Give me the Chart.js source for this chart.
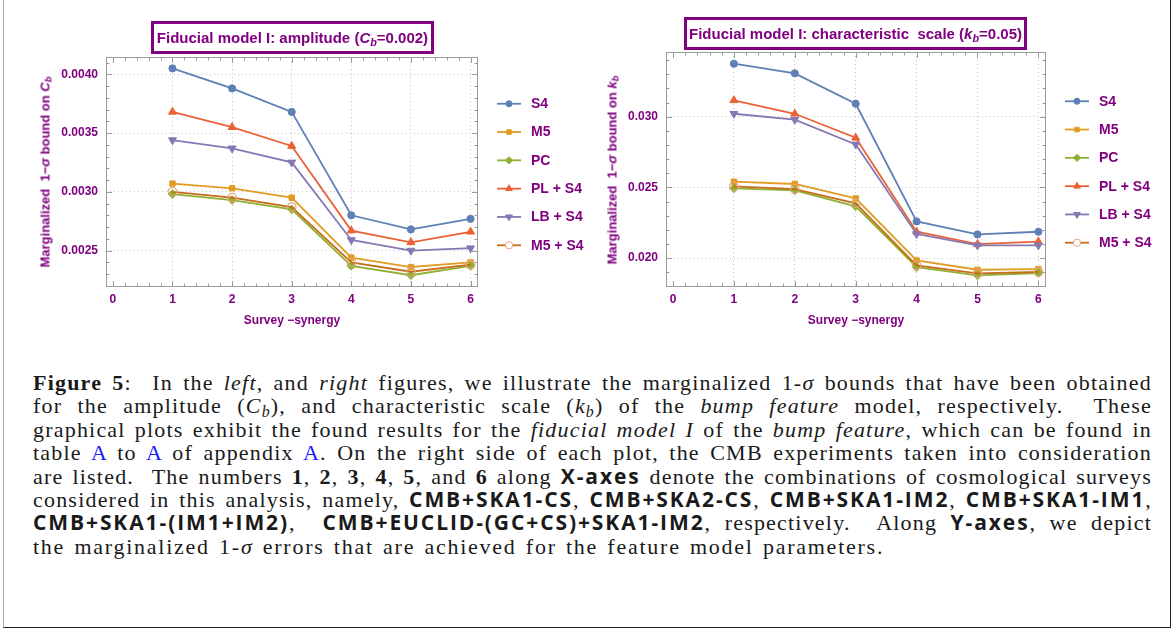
<!DOCTYPE html>
<html>
<head>
<meta charset="utf-8">
<title>Bump feature model: marginalized bounds</title>
<script src="https://cdn.jsdelivr.net/npm/chart.js@4"></script>
<style>
  html, body { margin: 0; padding: 0; background: #fff; }
  body { width: 1176px; height: 632px; position: relative; overflow: hidden;
         font-family: "Liberation Sans", Arial, sans-serif; }
  canvas { position: absolute; top: 0; }
  .frame { position: absolute; left: 3px; top: 0; width: 1166px; height: 627px;
           border-left: 1px solid #b0b0b0; border-right: 1px solid #222; border-bottom: 1px solid #222; }
  .plot-title { position: absolute; box-sizing: border-box; border: 3px solid #800080; color: #800080;
                font-weight: bold; font-size: 15px; line-height: 27px; text-align: center; white-space: nowrap; }
  .ytitle { position: absolute; transform: translate(-50%, -50%) rotate(-90deg); color: #800080;
            font-weight: bold; font-size: 13px; white-space: nowrap; }
  sub { font-size: 0.72em; line-height: 0; vertical-align: -0.25em; }
  .caption { position: absolute; left: 33px; top: 371px; width: 1119px; color: #1a1a1a;
             font-family: "Liberation Serif", "DejaVu Serif", serif; font-size: 22px; line-height: 23.4px;
             letter-spacing: 1.2px; word-spacing: 2px; }
  .caption div { text-align: justify; text-align-last: justify; white-space: nowrap; }
  .caption div.last { text-align-last: left; letter-spacing: 1.75px; }
  .sf { font-family: "Open Sans", "Noto Sans", sans-serif; font-weight: 700; font-size: 21px; letter-spacing: 1.9px; }
  .ref { color: #1a1aff; }
</style>
</head>
<body>
<div class="frame"></div>

<canvas id="ampChart" width="600" height="340" style="left:0px"></canvas>
<canvas id="kbChart" width="616" height="340" style="left:560px"></canvas>

<div class="plot-title" style="left:151px; top:21px; width:283px; height:33px;">Fiducial model I: amplitude (<i>C</i><sub><i>b</i></sub>=0.002)</div>
<div class="plot-title" style="left:684px; top:17px; width:343px; height:33px;">Fiducial model I: characteristic&nbsp; scale (<i>k</i><sub><i>b</i></sub>=0.05)</div>

<div class="ytitle" style="left:45px; top:172px;">Marginalized&nbsp; 1&minus;<i>σ</i> bound on <i>C</i><sub><i>b</i></sub></div>
<div class="ytitle" style="left:612px; top:170px;">Marginalized&nbsp; 1&minus;<i>σ</i> bound on <i>k</i><sub><i>b</i></sub></div>

<div class="caption">
  <div><b>Figure 5</b>:&nbsp; In the <i>left</i>, and <i>right</i> figures, we illustrate the marginalized 1-<i>σ</i> bounds that have been obtained</div>
  <div>for the amplitude (<i>C</i><sub><i>b</i></sub>), and characteristic scale (<i>k</i><sub><i>b</i></sub>) of the <i>bump feature</i> model, respectively.&nbsp; These</div>
  <div>graphical plots exhibit the found results for the <i>fiducial model I</i> of the <i>bump feature</i>, which can be found in</div>
  <div>table <span class="ref">A</span> to <span class="ref">A</span> of appendix <span class="ref">A</span>. On the right side of each plot, the CMB experiments taken into consideration</div>
  <div>are listed.&nbsp; The numbers <b>1</b>, <b>2</b>, <b>3</b>, <b>4</b>, <b>5</b>, and <b>6</b> along <span class="sf">X-axes</span> denote the combinations of cosmological surveys</div>
  <div>considered in this analysis, namely, <span class="sf">CMB+SKA1-CS</span>, <span class="sf">CMB+SKA2-CS</span>, <span class="sf">CMB+SKA1-IM2</span>, <span class="sf">CMB+SKA1-IM1</span>,</div>
  <div><span class="sf">CMB+SKA1-(IM1+IM2)</span>,&nbsp; <span class="sf">CMB+EUCLID-(GC+CS)+SKA1-IM2</span>, respectively.&nbsp; Along <span class="sf">Y-axes</span>, we depict</div>
  <div class="last">the marginalized 1-<i>σ</i> errors that are achieved for the feature model parameters.</div>
</div>

<script>
// survey combinations along x, CMB experiments in the legend
const surveys = [1, 2, 3, 4, 5, 6];
const experiments = ['S4', 'M5', 'PC', 'PL + S4', 'LB + S4', 'M5 + S4'];

// 1-sigma bounds on the amplitude C_b
const ampS4   = [0.00405, 0.00388, 0.00368, 0.00280, 0.00268, 0.00277];
const ampM5   = [0.00307, 0.00303, 0.00295, 0.00244, 0.00236, 0.00240];
const ampPC   = [0.00298, 0.00293, 0.00285, 0.00237, 0.00229, 0.00237];
const ampPLS4 = [0.00368, 0.00355, 0.00339, 0.00267, 0.00257, 0.00266];
const ampLBS4 = [0.00344, 0.00337, 0.00325, 0.00259, 0.00250, 0.00252];
const ampM5S4 = [0.00300, 0.00295, 0.00287, 0.00240, 0.00232, 0.00238];

// 1-sigma bounds on the characteristic scale k_b
const kbS4   = [0.03375, 0.03307, 0.03092, 0.02259, 0.02167, 0.02186];
const kbM5   = [0.02540, 0.02524, 0.02422, 0.01983, 0.01917, 0.01922];
const kbPC   = [0.02493, 0.02479, 0.02366, 0.01936, 0.01877, 0.01894];
const kbPLS4 = [0.03116, 0.03021, 0.02851, 0.02186, 0.02099, 0.02116];
const kbLBS4 = [0.03021, 0.02979, 0.02804, 0.02170, 0.02090, 0.02090];
const kbM5S4 = [0.02507, 0.02488, 0.02387, 0.01948, 0.01892, 0.01901];

// tick labels
const xTicks = [0, 1, 2, 3, 4, 5, 6];
const ampTicks = [0.0025, 0.0030, 0.0035, 0.0040];
const kbTicks = [0.020, 0.025, 0.030];

const purple = '#800080';
const frameGray = '#9a9a9a';

// line colour and marker for each experiment
const styles = [
  { color: '#5E81B5', point: 'circle', radius: 3.6 },
  { color: '#E19C24', point: 'rect', radius: 3.8 },
  { color: '#8FB032', point: 'rectRot', radius: 4.3 },
  { color: '#EB6235', point: 'triangle', radius: 4.6 },
  { color: '#8778B3', point: 'triangle', radius: 4.6, rotation: 180 },
  { color: '#C56E1A', point: 'circle', radius: 4.3, hollow: '#E6A483' },
];

// frame with inward major/minor ticks on all four sides
const frameTicks = {
  id: 'frameTicks',
  beforeDatasetsDraw(chart, args, opts) {
    const { ctx, chartArea: a, scales: { x, y } } = chart;
    ctx.save();
    ctx.strokeStyle = frameGray;
    ctx.lineWidth = 1;
    ctx.strokeRect(Math.round(a.left) + 0.5, Math.round(a.top) + 0.5,
                   Math.round(a.right - a.left) - 1, Math.round(a.bottom - a.top) - 1);
    ctx.beginPath();
    const isMajor = (v, majors, step) => majors.some(t => Math.abs(v - t) < step / 10);
    for (let k = Math.ceil(x.min / opts.xMinor); k * opts.xMinor <= x.max; k++) {
      const v = k * opts.xMinor;
      const len = isMajor(v, xTicks, opts.xMinor) ? 6 : 3.5;
      const px = Math.round(x.getPixelForValue(v)) + 0.5;
      ctx.moveTo(px, a.bottom); ctx.lineTo(px, a.bottom - len);
      ctx.moveTo(px, a.top); ctx.lineTo(px, a.top + len);
    }
    for (let k = Math.ceil(y.min / opts.yMinor); k * opts.yMinor <= y.max; k++) {
      const v = k * opts.yMinor;
      const len = isMajor(v, opts.yMajor, opts.yMinor) ? 6 : 3.5;
      const py = Math.round(y.getPixelForValue(v)) + 0.5;
      ctx.moveTo(a.left, py); ctx.lineTo(a.left + len, py);
      ctx.moveTo(a.right, py); ctx.lineTo(a.right - len, py);
    }
    ctx.stroke();
    ctx.restore();
  }
};

// legend to the right of the plot: short line with the marker, then the name
const sideLegend = {
  id: 'sideLegend',
  afterDraw(chart, args, opts) {
    const { ctx, chartArea: a } = chart;
    const sets = chart.data.datasets;
    const x0 = a.right + opts.gap;
    const yc = (a.top + a.bottom) / 2 + opts.shift;
    ctx.save();
    sets.forEach((ds, i) => {
      const st = styles[i];
      const yy = yc + (i - (sets.length - 1) / 2) * opts.rowGap;
      ctx.strokeStyle = st.color;
      ctx.lineWidth = 1.8;
      ctx.beginPath();
      ctx.moveTo(x0, yy); ctx.lineTo(x0 + 24, yy);
      ctx.stroke();
      ctx.fillStyle = st.hollow ? '#ffffff' : st.color;
      ctx.strokeStyle = st.hollow || st.color;
      ctx.lineWidth = 1;
      const pt = { pointStyle: st.point, rotation: st.rotation || 0, radius: st.radius * 0.85, borderWidth: 1 };
      if (Chart.helpers && Chart.helpers.drawPoint) {
        Chart.helpers.drawPoint(ctx, pt, x0 + 12, yy);
      } else {
        ctx.beginPath(); ctx.arc(x0 + 12, yy, pt.radius, 0, Math.PI * 2); ctx.fill(); ctx.stroke();
      }
      ctx.fillStyle = purple;
      ctx.font = 'bold 14px "Liberation Sans", Arial, sans-serif';
      ctx.textBaseline = 'middle';
      ctx.fillText(ds.label, x0 + 34, yy + 0.5);
    });
    ctx.restore();
  }
};

function makeDatasets(seriesList) {
  return seriesList.map((vals, i) => {
    const st = styles[i];
    return {
      label: experiments[i],
      data: surveys.map((s, j) => ({ x: s, y: vals[j] })),
      borderColor: st.color,
      borderWidth: 1.8,
      pointStyle: st.point,
      pointRotation: st.rotation || 0,
      pointRadius: st.radius,
      pointBackgroundColor: st.hollow ? 'rgba(255,255,255,0)' : st.color,
      pointBorderColor: st.hollow || st.color,
      pointBorderWidth: st.hollow ? 1.2 : 1,
      tension: 0,
      order: seriesList.length - i,
    };
  });
}

function makeChart(id, seriesList, yRange, yMajor, yMinor, digits, pad) {
  return new Chart(document.getElementById(id), {
    type: 'line',
    data: { datasets: makeDatasets(seriesList) },
    plugins: [frameTicks, sideLegend],
    options: {
      responsive: false,
      animation: false,
      events: [],
      layout: { padding: pad },
      scales: {
        x: {
          type: 'linear',
          min: -0.115,
          max: 6.125,
          afterBuildTicks: s => { s.ticks = xTicks.map(v => ({ value: v })); },
          afterFit: s => { s.height = 53; },
          ticks: {
            color: purple, padding: 5, maxRotation: 0, autoSkip: false,
            font: { family: '"Liberation Sans", Arial, sans-serif', size: 12, weight: 'bold' },
          },
          grid: {
            drawTicks: false,
            color: c => (c.tick && c.tick.value === 0 ? 'rgba(0,0,0,0)' : '#c4c4c4'),
          },
          border: { display: false, dash: [1, 3] },
          title: {
            display: true, text: 'Survey \u2212synergy', color: purple,
            padding: { top: 0, bottom: 12 },
            font: { family: '"Liberation Sans", Arial, sans-serif', size: 12, weight: 'bold' },
          },
        },
        y: {
          min: yRange[0],
          max: yRange[1],
          afterBuildTicks: s => { s.ticks = yMajor.map(v => ({ value: v })); },
          afterFit: s => { s.width = 106; },
          ticks: {
            color: purple, padding: 8, autoSkip: false,
            callback: v => v.toFixed(digits),
            font: { family: '"Liberation Sans", Arial, sans-serif', size: 12, weight: 'bold' },
          },
          grid: { drawTicks: false, color: '#c4c4c4' },
          border: { display: false, dash: [1, 3] },
        },
      },
      plugins: {
        legend: { display: false },
        tooltip: { enabled: false },
        frameTicks: { xMinor: 0.2, yMinor: yMinor, yMajor: yMajor },
        sideLegend: { gap: 19, rowGap: 28.3, shift: 2.5 },
      },
    },
  });
}

makeChart('ampChart', [ampS4, ampM5, ampPC, ampPLS4, ampLBS4, ampM5S4],
          [0.00219, 0.004147], ampTicks, 0.0001, 4,
          { left: 0, top: 57, right: 122, bottom: 0 });

makeChart('kbChart', [kbS4, kbM5, kbPC, kbPLS4, kbLBS4, kbM5S4],
          [0.01795, 0.03458], kbTicks, 0.001, 3,
          { left: 0, top: 52, right: 130, bottom: 0 });
</script>
</body>
</html>
